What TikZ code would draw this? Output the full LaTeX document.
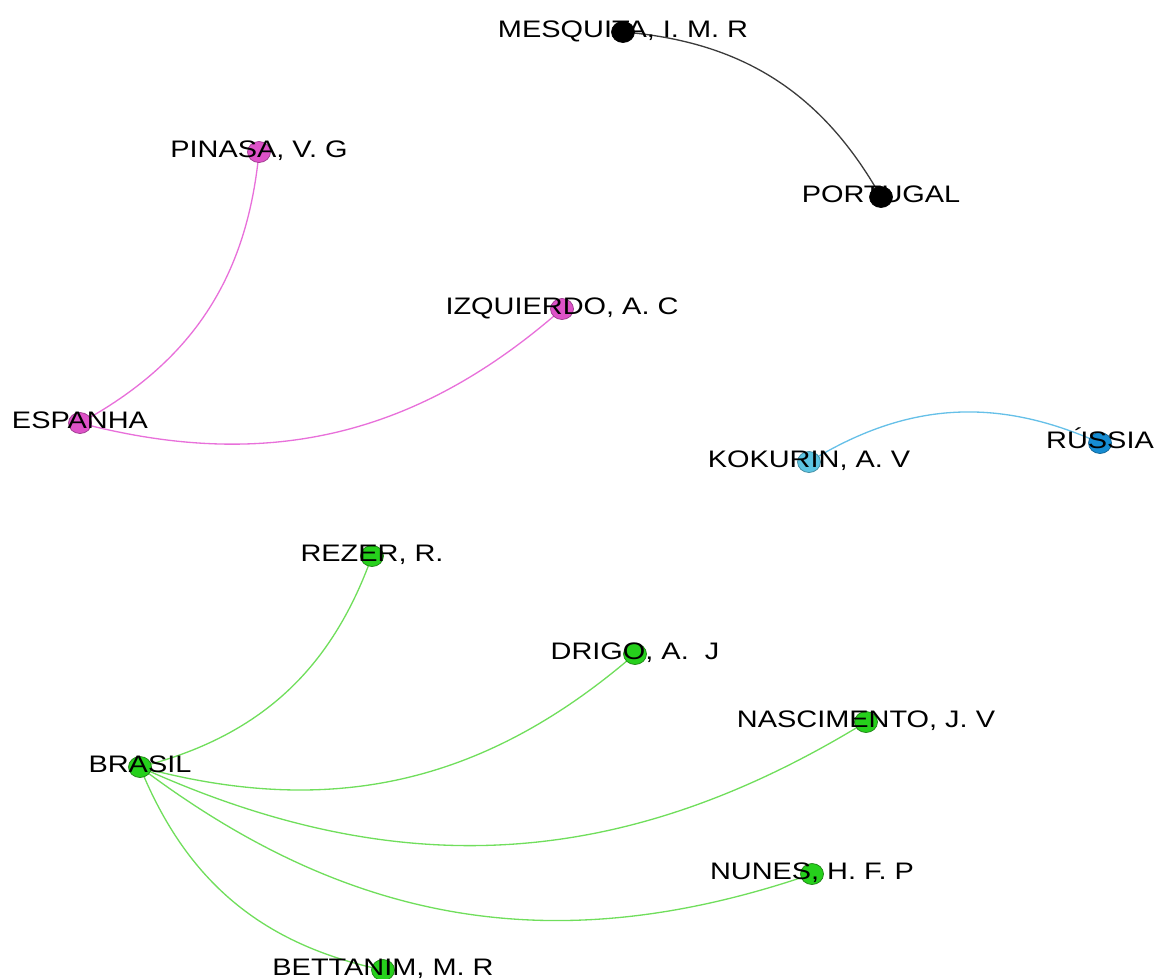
\documentclass[tikz,border=0pt]{standalone}
\usepackage{fontspec}
\setmainfont{Liberation Sans}
\usetikzlibrary{shapes.geometric,backgrounds}
\definecolor{pinkN}{RGB}{222,82,200}
\definecolor{pinkE}{RGB}{232,112,218}
\definecolor{greenN}{RGB}{38,208,28}
\definecolor{greenO}{RGB}{30,130,20}
\definecolor{greenE}{RGB}{112,222,92}
\definecolor{ltblueN}{RGB}{92,196,226}
\definecolor{blueN}{RGB}{22,140,210}
\definecolor{blueE}{RGB}{102,192,232}
\definecolor{grayE}{RGB}{60,60,60}
\newcommand{\sx}[1]{\scalebox{1.21}[1]{#1}}
\tikzset{
  dot/.style={ellipse, draw, line width=0.4pt, minimum width=0.46cm, minimum height=0.42cm, inner sep=0pt},
  blackdot/.style={dot, fill=black, draw=black},
  pinkdot/.style={dot, fill=pinkN, draw=pinkN!70!black},
  greendot/.style={dot, fill=greenN, draw=greenO},
  ltbluedot/.style={dot, fill=ltblueN, draw=ltblueN!70!black},
  bluedot/.style={dot, fill=blueN, draw=blueN!70!black},
  lbl/.style={anchor=base, yshift=-0.1cm, inner sep=0pt, font=\fontsize{13.6}{16}\selectfont, text=black},
  gedge/.style={line width=0.75pt, bend left=28},
}
\begin{document}
\begin{tikzpicture}[x=0.02cm,y=0.02cm]
\useasboundingbox (0,0) rectangle (1155,-978);
% nodes
\node[blackdot] (mesq) at (623,-32) {};
\node[blackdot] (port) at (881,-197) {};
\node[pinkdot] (pinasa) at (259,-152) {};
\node[pinkdot] (izq) at (562,-309) {};
\node[pinkdot] (espanha) at (80,-423) {};
\node[ltbluedot] (kok) at (809,-462) {};
\node[bluedot] (russia) at (1100,-443) {};
\node[greendot] (rezer) at (372,-556) {};
\node[greendot] (drigo) at (635,-654) {};
\node[greendot] (nasc) at (866,-722) {};
\node[greendot] (brasil) at (140,-767) {};
\node[greendot] (nunes) at (812,-874) {};
\node[greendot] (bett) at (383,-970) {};
% edges
\begin{scope}[on background layer]
\draw[gedge, draw=grayE] (mesq.center) to (port.center);
\draw[gedge, draw=pinkE] (pinasa.center) to (espanha.center);
\draw[gedge, draw=pinkE] (izq.center) to (espanha.center);
\draw[gedge, draw=blueE] (kok.center) to (russia.center);
\draw[gedge, draw=greenE] (rezer.center) to (brasil.center);
\draw[gedge, draw=greenE] (drigo.center) to (brasil.center);
\draw[gedge, draw=greenE] (nasc.center) to (brasil.center);
\draw[gedge, draw=greenE] (nunes.center) to (brasil.center);
\draw[gedge, draw=greenE] (bett.center) to (brasil.center);
\end{scope}
% labels
\node[lbl] (mesqL) at (mesq) {\sx{MESQUITA, I. M. R}};
\node[lbl] (portL) at (port) {\sx{PORTUGAL}};
\node[lbl] (pinasaL) at (pinasa) {\sx{PINASA, V. G}};
\node[lbl] (izqL) at (izq) {\sx{IZQUIERDO, A. C}};
\node[lbl] (espanhaL) at (espanha) {\sx{ESPANHA}};
\node[lbl] (kokL) at (kok) {\sx{KOKURIN, A. V}};
\node[lbl] (russiaL) at (russia) {\sx{RÚSSIA}};
\node[lbl] (rezerL) at (rezer) {\sx{REZER, R.}};
\node[lbl] (drigoL) at (drigo) {\sx{DRIGO, A.\ \ J}};
\node[lbl] (nascL) at (nasc) {\sx{NASCIMENTO, J. V}};
\node[lbl] (brasilL) at (brasil) {\sx{BRASIL}};
\node[lbl] (nunesL) at (nunes) {\sx{NUNES, H. F. P}};
\node[lbl] (bettL) at (bett) {\sx{BETTANIM, M. R}};
\end{tikzpicture}
\end{document}
